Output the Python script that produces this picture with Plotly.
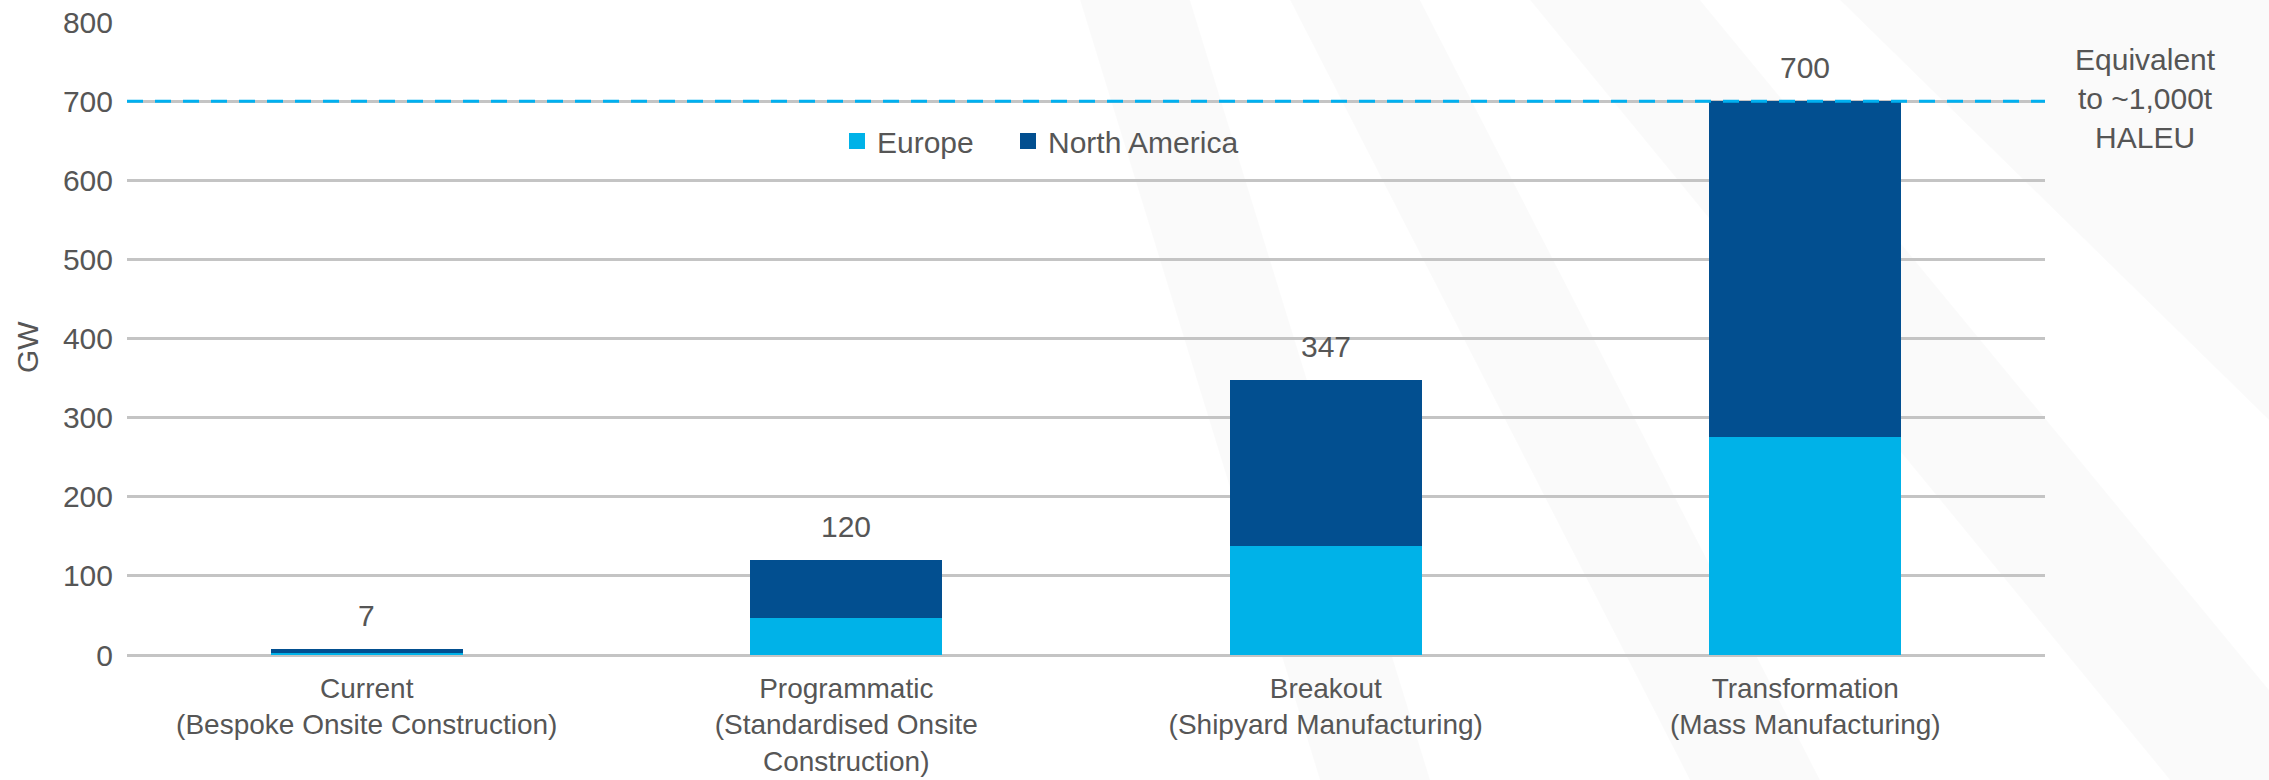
import plotly.graph_objects as go

categories = [
    "Current<br>(Bespoke Onsite Construction)",
    "Programmatic<br>(Standardised Onsite<br>Construction)",
    "Breakout<br>(Shipyard Manufacturing)",
    "Transformation<br>(Mass Manufacturing)",
]
europe = [3, 47, 138, 276]
north_america = [4, 73, 209, 424]
totals = [e + n for e, n in zip(europe, north_america)]
haleu_line = 700
y_ticks = [0, 100, 200, 300, 400, 500, 600, 700, 800]

C_EU = "#00B2E8"
C_NA = "#024F90"
TXT = "#565656"
FONT = "Arial, Liberation Sans, sans-serif"
FS = 30

W, H = 2269, 780
ML, MR, MT, MB = 127, 224, 22, 125
PW, PH = W - ML - MR, H - MT - MB


def px2paper(px, py):
    return (px - ML) / PW, (H - MB - py) / PH


fig = go.Figure()
fig.add_trace(go.Bar(x=categories, y=europe, name="Europe", marker=dict(color=C_EU, line=dict(width=0)),
                     showlegend=False, hoverinfo="y"))
fig.add_trace(go.Bar(x=categories, y=north_america, name="North America",
                     marker=dict(color=C_NA, line=dict(width=0)), showlegend=False, hoverinfo="y"))
# legend entries with larger square swatches (one legend each, placed independently)
fig.add_trace(go.Scatter(x=[None], y=[None], mode="markers", name="Europe", legend="legend",
                         marker=dict(symbol="square", size=19, color=C_EU)))
fig.add_trace(go.Scatter(x=[None], y=[None], mode="markers", name="North America", legend="legend2",
                         marker=dict(symbol="square", size=19, color=C_NA)))

for c, t in zip(categories, totals):
    fig.add_annotation(x=c, y=t, text=str(t), showarrow=False, yshift=34, yanchor="middle",
                       font=dict(size=FS, color=TXT, family=FONT))

# reference line
fig.add_shape(type="line", xref="paper", x0=0, x1=1, y0=haleu_line, y1=haleu_line,
              line=dict(color="#00B0F0", width=3, dash="16px,12px"), layer="above")

# decorative faint background bands
bands = [
    [(1080, 0), (1190, 0), (1430, 780), (1320, 780)],
    [(1290, 0), (1420, 0), (1820, 780), (1690, 780)],
    [(1530, 0), (1700, 0), (2269, 690), (2269, 780), (2170, 780)],
    [(1840, 0), (2269, 0), (2269, 420)],
]
for poly in bands:
    pts = [px2paper(x, y) for x, y in poly]
    path = "M " + " L ".join(f"{x:.4f},{y:.4f}" for x, y in pts) + " Z"
    fig.add_shape(type="path", xref="paper", yref="paper", path=path,
                  fillcolor="rgba(0,0,0,0.018)", line=dict(width=0), layer="below")

ex, ey = px2paper(2145, 98)
fig.add_annotation(xref="paper", yref="paper", x=ex, y=ey, text="Equivalent<br>to ~1,000t<br>HALEU",
                   showarrow=False, xanchor="center", yanchor="middle", align="center",
                   font=dict(size=30, color="#555555", family=FONT))
gx, gy = px2paper(27, 347)
fig.add_annotation(xref="paper", yref="paper", x=gx, y=gy, text="GW", textangle=-90,
                   showarrow=False, xanchor="center", yanchor="middle",
                   font=dict(size=FS, color=TXT, family=FONT))

leg_common = dict(orientation="h", xanchor="left", yanchor="middle", bgcolor="rgba(0,0,0,0)",
                  font=dict(size=FS, color=TXT, family=FONT), itemwidth=30)
l1x, l1y = px2paper(837, 141)
l2x, l2y = px2paper(1008, 141)
fig.update_layout(
    width=W, height=H,
    margin=dict(l=ML, r=MR, t=MT, b=MB, autoexpand=False),
    barmode="stack", bargap=0.6,
    paper_bgcolor="white", plot_bgcolor="rgba(0,0,0,0)",
    font=dict(family=FONT, size=FS, color=TXT),
    legend=dict(x=l1x, y=l1y, **leg_common),
    legend2=dict(x=l2x, y=l2y, **leg_common),
    xaxis=dict(showgrid=False, showline=False, zeroline=False, ticks="", automargin=False,
               tickfont=dict(size=28, color=TXT), ticklabelstandoff=14),
    yaxis=dict(range=[0, 800], tickvals=y_ticks, showgrid=True, gridcolor="#C4C4C4", gridwidth=3,
               zeroline=True, zerolinecolor="#C4C4C4", zerolinewidth=3, showline=False, automargin=False,
               ticks="", ticklabelstandoff=13, tickfont=dict(size=FS, color=TXT)),
)

fig.write_html("out.html")
